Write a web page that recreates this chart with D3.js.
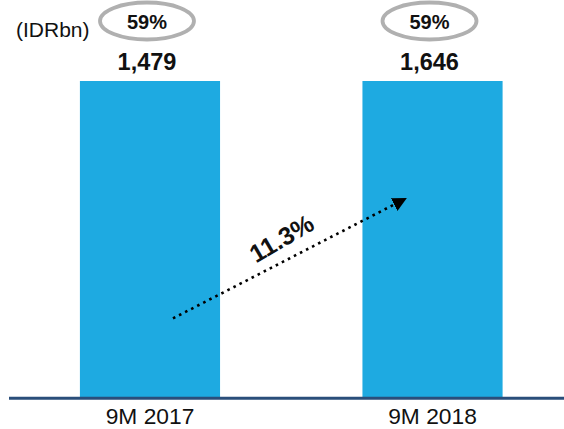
<!DOCTYPE html>
<html>
<head>
<meta charset="utf-8">
<script src="https://cdn.jsdelivr.net/npm/d3@7"></script>
<style>
  html, body { margin: 0; padding: 0; background: #fff; }
  svg { display: block; font-family: "Liberation Sans", Arial, sans-serif; }
</style>
</head>
<body>
<svg id="chart" width="564" height="429"></svg>
<script>
const categories = ["9M 2017", "9M 2018"];
const values = [1479, 1646];
const valueLabels = ["1,479", "1,646"];
const shareLabels = ["59%", "59%"];
const growthLabel = "11.3%";
const unitLabel = "(IDRbn)";

const W = 564, H = 429;
const svg = d3.select("#chart");

const x = d3.scaleBand()
  .domain(categories)
  .range([9, 573.5])
  .paddingInner(0.504)
  .paddingOuter(0.251);

// Bars are drawn to equal height in the reference (schematic)
const y = d3.scaleLinear().domain([0, 1]).range([397.5, 81]);

const barColor = "#1EAAE1";

svg.selectAll("rect.bar")
  .data(categories)
  .join("rect")
  .attr("class", "bar")
  .attr("x", d => x(d))
  .attr("width", x.bandwidth())
  .attr("y", y(1))
  .attr("height", y(0) - y(1))
  .attr("fill", barColor);

// baseline axis
const xAxis = d3.axisBottom(x).tickSize(0).tickPadding(11);
const ax = svg.append("g").attr("transform", `translate(0,${y(0)})`).call(xAxis);
ax.select(".domain").remove();
ax.selectAll("text")
  .attr("font-size", 21.5)
  .attr("fill", "#111")
  .attr("font-family", "Liberation Sans, Arial, sans-serif")
  .attr("dy", "0.71em")
  .attr("transform", "scale(1.06,1)");
svg.append("line")
  .attr("x1", 9).attr("x2", W)
  .attr("y1", 398.3).attr("y2", 398.3)
  .attr("stroke", "#2A4E7A").attr("stroke-width", 3);

// value labels
svg.selectAll("text.val")
  .data(valueLabels)
  .join("text")
  .attr("class", "val")
  .attr("x", (d, i) => x(categories[i]) + x.bandwidth() / 2 - 3)
  .attr("y", 69.5)
  .attr("text-anchor", "middle")
  .attr("font-size", 23.5)
  .attr("font-weight", "bold")
  .attr("fill", "#111")
  .text(d => d);

// share ellipses
const sh = svg.selectAll("g.share")
  .data(shareLabels)
  .join("g")
  .attr("class", "share")
  .attr("transform", (d, i) => `translate(${x(categories[i]) + x.bandwidth() / 2 - 3},21)`);
sh.append("ellipse")
  .attr("rx", 47).attr("ry", 18.5)
  .attr("fill", "#fff")
  .attr("stroke", "#B0B0B0")
  .attr("stroke-width", 3.8);
sh.append("text")
  .attr("y", 7.5)
  .attr("text-anchor", "middle")
  .attr("font-size", 20)
  .attr("font-weight", "bold")
  .attr("fill", "#111")
  .text(d => d);

// unit label
svg.append("text")
  .attr("x", 16)
  .attr("y", 37)
  .attr("font-size", 21)
  .attr("fill", "#111")
  .text(unitLabel);

// growth arrow (dotted)
const defs = svg.append("defs");
defs.append("marker")
  .attr("id", "arr")
  .attr("viewBox", "0 0 10 10")
  .attr("refX", 5).attr("refY", 5)
  .attr("markerWidth", 5.5).attr("markerHeight", 5.5)
  .attr("markerUnits", "strokeWidth")
  .attr("orient", "auto")
  .append("path")
  .attr("d", "M0,0 L10,5 L0,10 Z")
  .attr("fill", "#000");

const x0 = x(categories[0]) + x.bandwidth() / 2 + 23;
const x1 = x(categories[1]) + x.bandwidth() / 2 - 32;
const ya = y(0.25), yb = y(0.62);
svg.append("line")
  .attr("x1", x0).attr("y1", ya)
  .attr("x2", x1).attr("y2", yb)
  .attr("stroke", "#000")
  .attr("stroke-width", 2.6)
  .attr("stroke-dasharray", "2.6 4.2")
  .attr("marker-end", "url(#arr)");

const ang = Math.atan2(yb - ya, x1 - x0) * 180 / Math.PI;
svg.append("text")
  .attr("transform", `translate(286,246) rotate(${ang - 3})`)
  .attr("text-anchor", "middle")
  .attr("font-size", 25)
  .attr("font-weight", "bold")
  .attr("fill", "#111")
  .text(growthLabel);
</script>
</body>
</html>
